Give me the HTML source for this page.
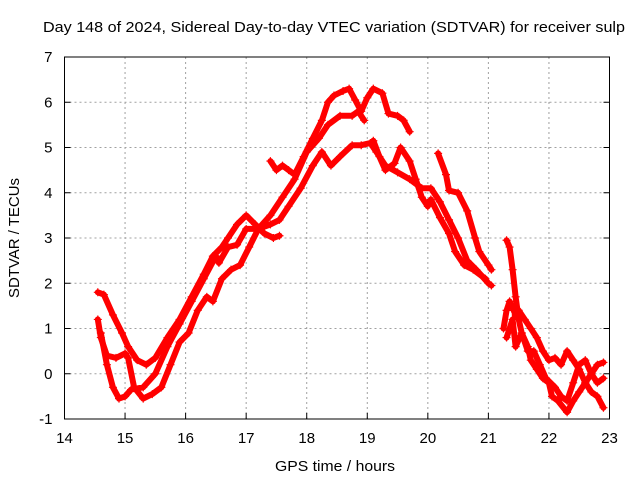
<!DOCTYPE html>
<html><head><meta charset="utf-8">
<style>
body{margin:0;background:#fff;}
svg text{font-family:"Liberation Sans",sans-serif;font-size:15px;fill:#000;}
</style></head>
<body>
<svg id="chart" width="640" height="480" viewBox="0 0 640 480" xmlns="http://www.w3.org/2000/svg">
<text x="43" y="32" textLength="582" lengthAdjust="spacingAndGlyphs">Day 148 of 2024, Sidereal Day-to-day VTEC variation (SDTVAR) for receiver sulp</text>
<g id="grid"></g>
<g id="series"></g>
<rect x="64.5" y="57" width="545" height="362" fill="none" stroke="#000" stroke-width="1"/>
<g id="ticks"></g>
<text x="335" y="471" text-anchor="middle" textLength="120" lengthAdjust="spacingAndGlyphs">GPS time / hours</text>
<text transform="translate(19,238) rotate(-90)" text-anchor="middle" textLength="120" lengthAdjust="spacingAndGlyphs">SDTVAR / TECUs</text>
</svg>
<script>
const xTicks=[14,15,16,17,18,19,20,21,22,23];
const yTicks=[-1,0,1,2,3,4,5,6,7];
const c1Hours=[14.55,14.65,14.8,14.95,15.05,15.2,15.35,15.5,15.7,15.9,16.1,16.3,16.45,16.6,16.7,16.85,17.0,17.15,17.3,17.45,17.55];
const c1Vals=[1.8,1.75,1.3,0.9,0.6,0.3,0.2,0.35,0.8,1.2,1.7,2.2,2.6,2.8,3.0,3.3,3.5,3.3,3.1,3.0,3.05];
const c2Hours=[14.55,14.6,14.7,14.85,15.0,15.05,15.15,15.3,15.45,15.6,15.75,15.9,16.05,16.2,16.35,16.45,16.6,16.75,16.9,17.05,17.2,17.4,17.6,17.8,18.0,18.2,18.35,18.55,18.75,18.85,18.95];
const c2Vals=[1.2,0.8,0.4,0.35,0.45,0.35,-0.3,-0.55,-0.45,-0.3,0.2,0.7,0.9,1.4,1.7,1.6,2.1,2.3,2.4,2.8,3.2,3.5,3.9,4.3,4.9,5.2,5.5,5.7,5.7,5.8,5.6];
const c3Hours=[14.6,14.7,14.8,14.9,15.0,15.1,15.3,15.5,15.7,15.9,16.1,16.3,16.5,16.55,16.7,16.85,17.0,17.2,17.4,17.55,17.7,17.9,18.1,18.25,18.4,18.55,18.75,18.9,19.05,19.15,19.3,19.5,19.7,19.9,20.05,20.2,20.35,20.5,20.65,20.8,21.0,21.05];
const c3Vals=[0.9,0.2,-0.3,-0.55,-0.5,-0.35,-0.3,0.0,0.6,1.1,1.6,2.1,2.6,2.45,2.8,2.85,3.2,3.2,3.3,3.4,3.7,4.1,4.6,4.9,4.6,4.8,5.05,5.05,5.1,4.9,4.6,4.45,4.3,4.1,4.1,3.8,3.4,3.0,2.5,2.3,2.0,1.95];
const c4Hours=[17.4,17.5,17.6,17.7,17.8,17.95,18.1,18.25,18.35,18.45,18.6,18.7,18.8,18.9,19.0,19.1,19.25,19.35,19.5,19.6,19.7];
const c4Vals=[4.7,4.5,4.6,4.5,4.4,4.8,5.2,5.6,6.0,6.15,6.25,6.3,6.05,5.8,6.1,6.3,6.2,5.75,5.7,5.6,5.35];
const c5Hours=[19.1,19.2,19.3,19.45,19.55,19.7,19.8,19.9,20.0,20.05,20.2,20.35,20.45,20.6,20.75,20.95];
const c5Vals=[5.15,4.8,4.5,4.65,5.0,4.7,4.3,3.9,3.7,3.85,3.45,3.1,2.7,2.4,2.3,2.1];
const c6Hours=[20.17,20.3,20.35,20.5,20.65,20.78,20.85,21.0,21.05];
const c6Vals=[4.87,4.4,4.05,4.0,3.6,3.0,2.7,2.4,2.3];
const l1Hours=[21.3,21.35,21.4,21.45,21.5,21.55,21.65,21.7,21.8,21.9,22.0,22.05,22.15,22.3,22.4,22.5,22.6,22.7,22.8,22.9];
const l1Vals=[2.95,2.8,2.3,1.7,1.2,0.9,0.6,0.3,0.1,-0.1,-0.2,-0.5,-0.6,-0.85,-0.6,-0.4,-0.2,0.0,0.2,0.25];
const l2Hours=[21.25,21.3,21.35,21.45,21.5,21.6,21.7,21.8,21.9,22.0,22.1,22.2,22.3,22.4,22.5,22.6,22.7,22.8,22.9];
const l2Vals=[1.0,1.4,1.6,1.3,1.4,1.2,1.0,0.8,0.5,0.3,0.35,0.2,0.5,0.3,0.1,-0.2,-0.4,-0.5,-0.75];
const l3Hours=[21.3,21.4,21.45,21.55,21.65,21.75,21.85,21.95,22.1,22.2,22.3,22.4,22.5,22.6,22.7,22.8,22.9];
const l3Vals=[0.8,1.2,0.6,0.9,0.5,0.5,0.2,-0.1,-0.3,-0.5,-0.6,-0.2,0.2,0.3,0.0,-0.2,-0.1];
const seriesList=[[c1Hours,c1Vals],[c2Hours,c2Vals],[c3Hours,c3Vals],[c4Hours,c4Vals],[c5Hours,c5Vals],[c6Hours,c6Vals],[l1Hours,l1Vals],[l2Hours,l2Vals],[l3Hours,l3Vals]];

const NS="http://www.w3.org/2000/svg";
const X0=64.5,X1=609.5,Y0=419,Y1=57;
function xs(h){return X0+(h-14)/(23-14)*(X1-X0);}
function ys(v){return Y0-(v+1)/(7+1)*(Y0-Y1);}
function mk(tag,attrs,parent){const e=document.createElementNS(NS,tag);for(const k in attrs)e.setAttribute(k,attrs[k]);parent.appendChild(e);return e;}
const grid=document.getElementById('grid'),ticks=document.getElementById('ticks'),ser=document.getElementById('series');
xTicks.forEach(t=>{
  const x=xs(t);
  if(t>14&&t<23){const l=mk('line',{x1:x,x2:x,y1:Y1,y2:Y0,stroke:'#a0a0a0','stroke-dasharray':'2,3'},grid);
  
  }
  const tk=mk('line',{x1:x,x2:x,y1:Y0,y2:Y0-6,stroke:'#000'},ticks);
  
  
  const tx=mk('text',{x:x,y:Y0+24,'text-anchor':'middle'},ticks);tx.textContent=t;
  
  
});
yTicks.forEach(t=>{
  const y=ys(t);
  if(t>-1&&t<7){const l=mk('line',{x1:X0,x2:X1,y1:y,y2:y,stroke:'#a0a0a0','stroke-dasharray':'2,3'},grid);
  
  }
  const tk=mk('line',{x1:X0,x2:X0+6,y1:y,y2:y,stroke:'#000'},ticks);
  
  
  const tk2=mk('line',{x1:X1,x2:X1-6,y1:y,y2:y,stroke:'#000'},ticks);
  
  
  const tx=mk('text',{x:X0-12,y:y+5,'text-anchor':'end'},ticks);tx.textContent=t;
  
  
});
seriesList.forEach((s,i)=>{
  const [hs,vs]=s;
  const pts=hs.map((h,j)=>xs(h).toFixed(1)+','+ys(vs[j]).toFixed(1)).join(' ');
  const pl=mk('polyline',{points:pts,fill:'none',stroke:'#ff0000','stroke-width':6,'stroke-linejoin':'round','stroke-linecap':'round'},ser);
  
  
  hs.forEach((h,j)=>{
    const x=xs(h),y=ys(vs[j]);
    const p=mk('path',{d:`M${x-4},${y}H${x+4}M${x},${y-4}V${y+4}`,stroke:'#ff0000','stroke-width':1.2,fill:'none'},ser);
    
    
  });
});
</script>
</body></html>
